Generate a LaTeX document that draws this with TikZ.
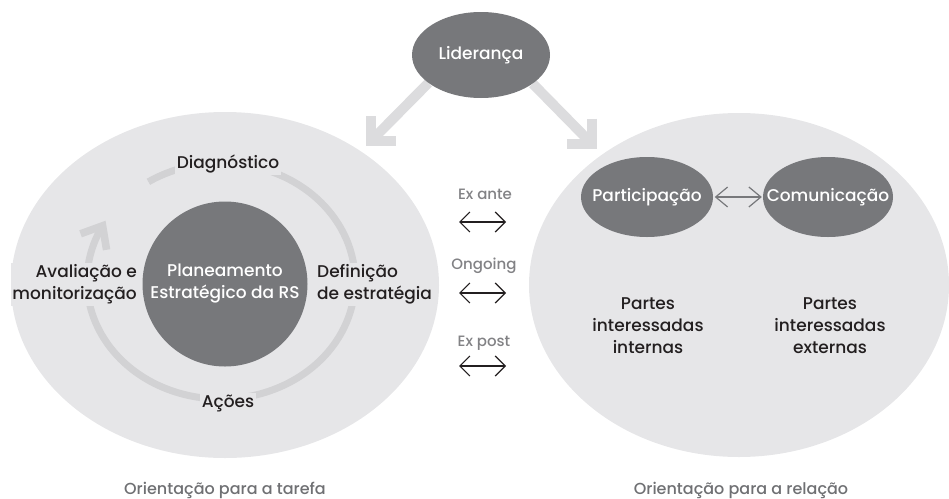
\documentclass[tikz,border=0pt]{standalone}
\usepackage{fontspec}
\setmainfont{Poppins Medium}
\usetikzlibrary{arrows.meta,calc,shapes.geometric,backgrounds}
\definecolor{bgfill}{HTML}{E6E6E8}
\definecolor{darkfill}{HTML}{77787B}
\definecolor{ringcol}{HTML}{D2D2D4}
\definecolor{arrcol}{HTML}{DCDCDE}
\definecolor{txt}{HTML}{231F20}
\definecolor{graytxt}{HTML}{828285}
\definecolor{bottxt}{HTML}{6F7073}
\begin{document}
\begin{tikzpicture}[x=1pt,y=-1pt,
  mainfont/.style={font=\fontsize{17}{22}\selectfont},
  bigell/.style={ellipse, fill=bgfill, inner sep=0pt},
  darkell/.style={ellipse, fill=darkfill, inner sep=0pt},
  darktext/.style={text=white, inner sep=0pt, align=center, mainfont},
  lbl/.style={fill=bgfill, text=txt, inner sep=1.5pt, mainfont},
  plain/.style={text=txt, inner sep=0pt, align=center, mainfont},
  smalllbl/.style={text=graytxt, inner sep=0pt, font=\fontsize{15}{18}\selectfont},
  botlbl/.style={text=bottxt, inner sep=0pt, font=\fontsize{16}{20}\selectfont},
  bigshaft/.style={draw=arrcol, line width=10pt},
  bighead/.style={draw=arrcol, line width=10pt, line join=miter},
  ringline/.style={draw=ringcol, line width=7pt},
  ringhead/.style={draw=ringcol, line width=7.5pt, line join=miter},
  dbl/.style={draw=txt, line width=1.2pt, {Straight Barb[length=10pt,width=20pt]}-{Straight Barb[length=10pt,width=20pt]}},
  pcarrow/.style={draw=darkfill, line width=1.2pt, {Straight Barb[length=12pt,width=20pt]}-{Straight Barb[length=12pt,width=20pt]}},
]
\useasboundingbox (0,0) rectangle (949,498);

% big ellipses
\node[bigell, minimum width=428pt, minimum height=346pt] (leftE) at (225,285) {};
\node[bigell, minimum width=420pt, minimum height=344pt] (rightE) at (739,285) {};

% leadership
\node[darkell, minimum width=138pt, minimum height=86pt,
      label={[darktext]center:Liderança}] (lid) at (481,55) {};
\coordinate (cL) at (371,141);
\coordinate (cR) at (591.5,143.5);
\begin{scope}[on background layer]
  \draw[bigshaft] (lid.208) -- (cL);
  \draw[bigshaft] (lid.-29) -- (cR);
\end{scope}
\draw[bighead] ($(cL)+(0,-25)$) -- (cL) -- ($(cL)+(25,0)$);
\draw[bighead] ($(cR)+(0,-25)$) -- (cR) -- ($(cR)+(-25,0)$);

% cycle ring
\coordinate (ringc) at (221,281);
\draw[ringline] ($(ringc)+(237.2:134 and 118)$) arc[start angle=237.2, end angle=567.9, x radius=134, y radius=118];
\coordinate (rtip) at ($(ringc)+(207.9:134 and 118)$);
\draw[ringhead] ($(rtip)+(-22,8)$) -- (rtip) -- ($(rtip)+(4,24)$);

% centre
\node[darkell, minimum width=165pt, minimum height=165pt,
      label={[darktext]center:Planeamento\\Estratégico da RS}] (plan) at (225,284) {};

% cycle labels
\node[lbl] (diag) at (228,164) {Diagnóstico};
\node[lbl] (acoes) at (228,403) {Ações};
\node[lbl, align=left, anchor=west] (defin) at (315.5,284.5) {Definição\\de estratégia};
\node[lbl, align=right, anchor=east] (aval) at (138.5,284.5) {Avaliação e\\monitorização};

% middle arrows
\node[smalllbl] (exante) at (485,194) {Ex ante};
\node[smalllbl] (ongoing) at (484,266) {Ongoing};
\node[smalllbl] (expost) at (484,343.5) {Ex post};
\coordinate (a1l) at (459,222);
\coordinate (a1r) at (506,222);
\coordinate (a2l) at (459,293);
\coordinate (a2r) at (506,293);
\coordinate (a3l) at (459,366);
\coordinate (a3r) at (506,366);
\draw[dbl] (a1l) -- (a1r);
\draw[dbl] (a2l) -- (a2r);
\draw[dbl] (a3l) -- (a3r);

% right side
\node[darkell, minimum width=132pt, minimum height=80pt,
      label={[darktext]center:Participação}] (part) at (647,197) {};
\node[darkell, minimum width=130pt, minimum height=80pt,
      label={[darktext]center:Comunicação}] (comu) at (828,197) {};
\draw[pcarrow, shorten <=1.5pt, shorten >=1pt] (part) -- (comu);
\node[plain] (pint) at (648,326) {Partes\\interessadas\\internas};
\node[plain] (pext) at (830,326) {Partes\\interessadas\\externas};

% bottom captions
\node[botlbl] (orT) at (225,490) {Orientação para a tarefa};
\node[botlbl] (orR) at (741,490) {Orientação para a relação};
\end{tikzpicture}
\end{document}
